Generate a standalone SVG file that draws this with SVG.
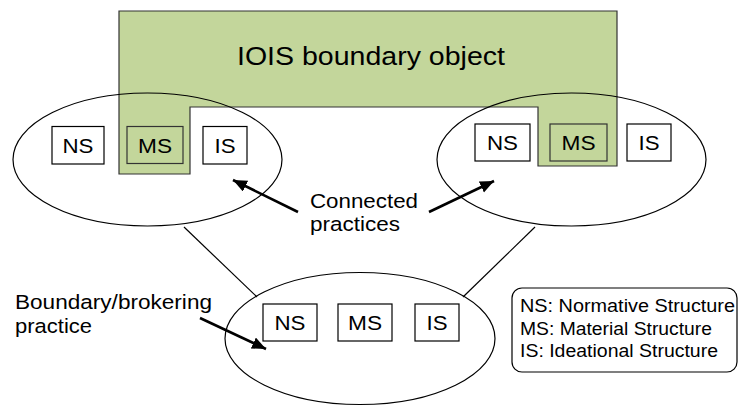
<svg xmlns="http://www.w3.org/2000/svg" width="738" height="406" viewBox="0 0 738 406">
<style>
text{font-family:"Liberation Sans",Arial,sans-serif;fill:#000}
.box{fill:#fff;stroke:#000;stroke-width:1.2}
.gbox{fill:#c3d69b;stroke:#333;stroke-width:1.2}
.ell{fill:none;stroke:#000;stroke-width:1.2}
.bt{font-size:20px;text-anchor:middle}
.lbl{font-size:20.5px}
.leg{font-size:17.5px}
.arr{stroke:#000;stroke-width:2.6;fill:none;marker-end:url(#ah)}
</style>
<defs>
<marker id="ah" markerUnits="userSpaceOnUse" markerWidth="16" markerHeight="14" refX="14" refY="6" orient="auto">
<path d="M0,0 L14,6 L0,12 Z" fill="#000"/>
</marker>
</defs>
<rect width="738" height="406" fill="#fff"/>
<g id="iois">
<polygon points="119,11 617,11 617,166 538,166 538,107 190,107 190,174 119,174" fill="#c3d69b" stroke="#333" stroke-width="1.2"/>
<text x="237" y="65" font-size="26" textLength="268" lengthAdjust="spacingAndGlyphs">IOIS boundary object</text>
</g>
<g id="left-practice">
<ellipse class="ell" cx="147.5" cy="159.5" rx="134.5" ry="66.5"/>
<rect class="box" x="52" y="126.5" width="52" height="37.5"/>
<text class="bt" x="78" y="152.5" textLength="31" lengthAdjust="spacingAndGlyphs">NS</text>
<rect class="gbox" x="127" y="126.5" width="56" height="37"/>
<text class="bt" x="155" y="152.5" textLength="34" lengthAdjust="spacingAndGlyphs">MS</text>
<rect class="box" x="203" y="126.5" width="44" height="37.5"/>
<text class="bt" x="225" y="152.5" textLength="21" lengthAdjust="spacingAndGlyphs">IS</text>
</g>
<g id="right-practice">
<ellipse class="ell" cx="571.5" cy="159.5" rx="134.5" ry="66.5"/>
<rect class="box" x="475" y="124" width="55" height="37"/>
<text class="bt" x="502.5" y="149.5" textLength="31" lengthAdjust="spacingAndGlyphs">NS</text>
<rect class="gbox" x="550" y="124" width="57" height="37"/>
<text class="bt" x="578.5" y="149.5" textLength="34" lengthAdjust="spacingAndGlyphs">MS</text>
<rect class="box" x="627" y="124" width="44" height="37"/>
<text class="bt" x="649" y="149.5" textLength="21" lengthAdjust="spacingAndGlyphs">IS</text>
</g>
<g id="brokering-practice">
<ellipse class="ell" cx="360" cy="338.5" rx="135" ry="66"/>
<rect class="box" x="263" y="304" width="54" height="37"/>
<text class="bt" x="290" y="329.5" textLength="31" lengthAdjust="spacingAndGlyphs">NS</text>
<rect class="box" x="338" y="304" width="54" height="37"/>
<text class="bt" x="365" y="329.5" textLength="34" lengthAdjust="spacingAndGlyphs">MS</text>
<rect class="box" x="415" y="304" width="44" height="37"/>
<text class="bt" x="437" y="329.5" textLength="21" lengthAdjust="spacingAndGlyphs">IS</text>
</g>
<g id="connectors">
<line x1="184" y1="227" x2="257" y2="297" stroke="#000" stroke-width="1.2"/>
<line x1="535" y1="227" x2="463" y2="297" stroke="#000" stroke-width="1.2"/>
<line class="arr" x1="298" y1="212" x2="233" y2="180"/>
<line class="arr" x1="429" y1="212" x2="494" y2="181"/>
<line class="arr" x1="200" y1="318" x2="266" y2="349"/>
</g>
<g id="label-connected">
<text class="lbl" x="310" y="208" textLength="108" lengthAdjust="spacingAndGlyphs">Connected</text>
<text class="lbl" x="310" y="231" textLength="90" lengthAdjust="spacingAndGlyphs">practices</text>
</g>
<g id="label-boundary">
<text class="lbl" x="15" y="309" textLength="197" lengthAdjust="spacingAndGlyphs">Boundary/brokering</text>
<text class="lbl" x="15" y="333" textLength="77" lengthAdjust="spacingAndGlyphs">practice</text>
</g>
<g id="legend">
<rect x="512" y="288" width="225" height="84" rx="10" ry="10" fill="#fff" stroke="#000" stroke-width="1.2"/>
<text class="leg" x="520" y="312" textLength="215" lengthAdjust="spacingAndGlyphs">NS: Normative Structure</text>
<text class="leg" x="520" y="334.5" textLength="192" lengthAdjust="spacingAndGlyphs">MS: Material Structure</text>
<text class="leg" x="520" y="357" textLength="198" lengthAdjust="spacingAndGlyphs">IS: Ideational Structure</text>
</g>
</svg>
